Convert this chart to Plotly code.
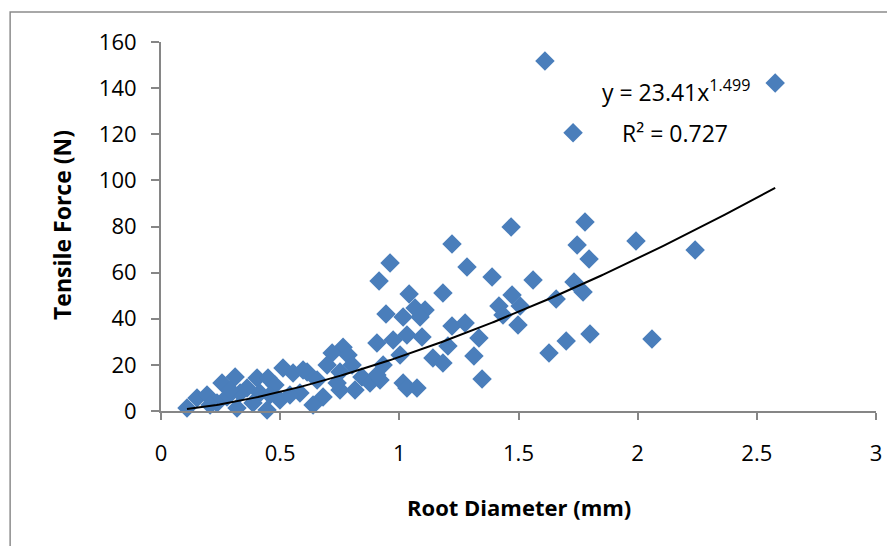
import numpy as np
import plotly.graph_objects as go

# Root diameter (mm) and tensile force (N)
diameter = [1.611, 2.577, 1.729, 1.779, 1.469, 1.746, 1.993, 1.221, 2.241, 1.796,
            0.961, 1.284, 0.915, 1.389, 1.561, 1.733, 1.771, 1.658, 1.041, 1.183,
            1.473, 1.418, 1.507, 0.944, 1.016, 1.066, 1.108, 1.087, 1.435, 1.498,
            1.221, 1.276, 1.334, 1.204, 1.313, 1.141, 1.183, 1.628, 1.700, 1.800,
            2.060, 1.347, 1.016, 1.074, 0.764, 0.906, 0.974, 1.032, 1.095, 0.718,
            0.785, 0.802, 0.697, 0.751, 0.613, 0.932, 1.003, 0.843, 0.877, 0.919,
            0.751, 0.814, 1.032, 0.680, 0.638, 0.583, 0.109, 0.151, 0.193, 0.256,
            0.311, 0.277, 0.235, 0.332, 0.361, 0.403, 0.449, 0.415, 0.386, 0.445,
            0.319, 0.512, 0.554, 0.596, 0.499, 0.478, 0.739, 0.655, 0.906, 0.541,
            0.206, 0.290, 0.457]
force = [151.8, 142.2, 120.6, 82.0, 79.8, 72.0, 73.7, 72.4, 69.8, 65.9,
         64.2, 62.4, 56.4, 58.1, 56.8, 55.9, 51.6, 48.6, 50.7, 51.2,
         50.3, 45.5, 45.5, 42.1, 40.8, 44.7, 43.8, 40.8, 41.6, 37.3,
         36.9, 38.2, 31.7, 28.2, 23.9, 23.0, 20.8, 25.2, 30.4, 33.4,
         31.2, 13.9, 12.1, 10.0, 27.6, 29.5, 30.8, 33.0, 32.1, 25.2,
         24.3, 19.9, 19.9, 16.9, 16.9, 19.9, 24.3, 14.7, 12.1, 13.4,
         9.1, 9.1, 10.0, 6.1, 2.6, 7.8, 1.3, 5.6, 6.9, 12.1,
         14.7, 6.1, 3.5, 7.8, 10.0, 14.3, 14.3, 7.8, 3.5, 0.4,
         1.3, 18.6, 16.5, 17.8, 4.8, 11.3, 12.1, 13.4, 15.6, 6.9,
         2.6, 9.1, 6.9]

# Power trendline shown on the chart: y = a * x^b
trend_a = 23.41
trend_b = 1.499
trend_x = np.linspace(min(diameter), max(diameter), 200)
trend_y = trend_a * trend_x ** trend_b

x_ticks = [0, 0.5, 1, 1.5, 2, 2.5, 3]
y_ticks = [0, 20, 40, 60, 80, 100, 120, 140, 160]

FONT = "Open Sans"
AXIS_GRAY = "#868686"

fig = go.Figure()
fig.add_trace(go.Scatter(
    x=diameter, y=force, mode="markers",
    marker=dict(symbol="diamond", size=15, color="#4A7EBB", line=dict(width=0)),
    cliponaxis=False, showlegend=False, hoverinfo="x+y"))
fig.add_trace(go.Scatter(
    x=trend_x, y=trend_y, mode="lines",
    line=dict(color="black", width=2), showlegend=False, hoverinfo="skip"))

# the page body adds an 8px offset, so the figure is 8px smaller and margins shifted
fig.update_layout(
    width=887, height=538,
    margin=dict(l=153, r=19, t=34, b=135),
    paper_bgcolor="white", plot_bgcolor="white",
    font=dict(family=FONT, size=22, color="black"),
    xaxis=dict(range=[0, 3], tickvals=x_ticks, ticktext=[str(v) for v in x_ticks],
               showgrid=False, zeroline=False, showline=True, linecolor=AXIS_GRAY,
               linewidth=2, ticks="outside", ticklen=7, tickwidth=2, tickcolor=AXIS_GRAY,
               ticklabelstandoff=15, tickfont=dict(family=FONT, size=22)),
    yaxis=dict(range=[0, 160], tickvals=y_ticks, showgrid=False, zeroline=False,
               showline=True, linecolor=AXIS_GRAY, linewidth=2, ticks="outside",
               ticklen=8, tickwidth=2, tickcolor=AXIS_GRAY, ticklabelstandoff=10,
               tickfont=dict(family=FONT, size=22)),
    shapes=[dict(type="rect", xref="paper", yref="paper", x0=-0.211, x1=1.2,
                 y0=-0.6, y1=1.081, line=dict(color="#8C8C8C", width=1.5),
                 fillcolor="rgba(0,0,0,0)", layer="below")],
    annotations=[
        dict(text="<b>Root Diameter (mm)</b>", xref="paper", yref="paper",
             x=0.5, y=-0.26, xanchor="center", yanchor="middle", showarrow=False,
             font=dict(family=FONT, size=22)),
        dict(text="<b>Tensile Force (N)</b>", xref="paper", yref="paper",
             x=-0.1385, y=0.504, xanchor="center", yanchor="middle", showarrow=False,
             textangle=-90, font=dict(family=FONT, size=23)),
        dict(text="y = 23.41x<sup>1.499</sup>", xref="paper", yref="paper",
             x=0.720, y=0.868, xanchor="center", yanchor="middle", showarrow=False,
             font=dict(family=FONT, size=23)),
        dict(text="R² = 0.727", xref="paper", yref="paper",
             x=0.719, y=0.753, xanchor="center", yanchor="middle", showarrow=False,
             font=dict(family=FONT, size=23)),
    ],
)

fig.write_html("out.html")
